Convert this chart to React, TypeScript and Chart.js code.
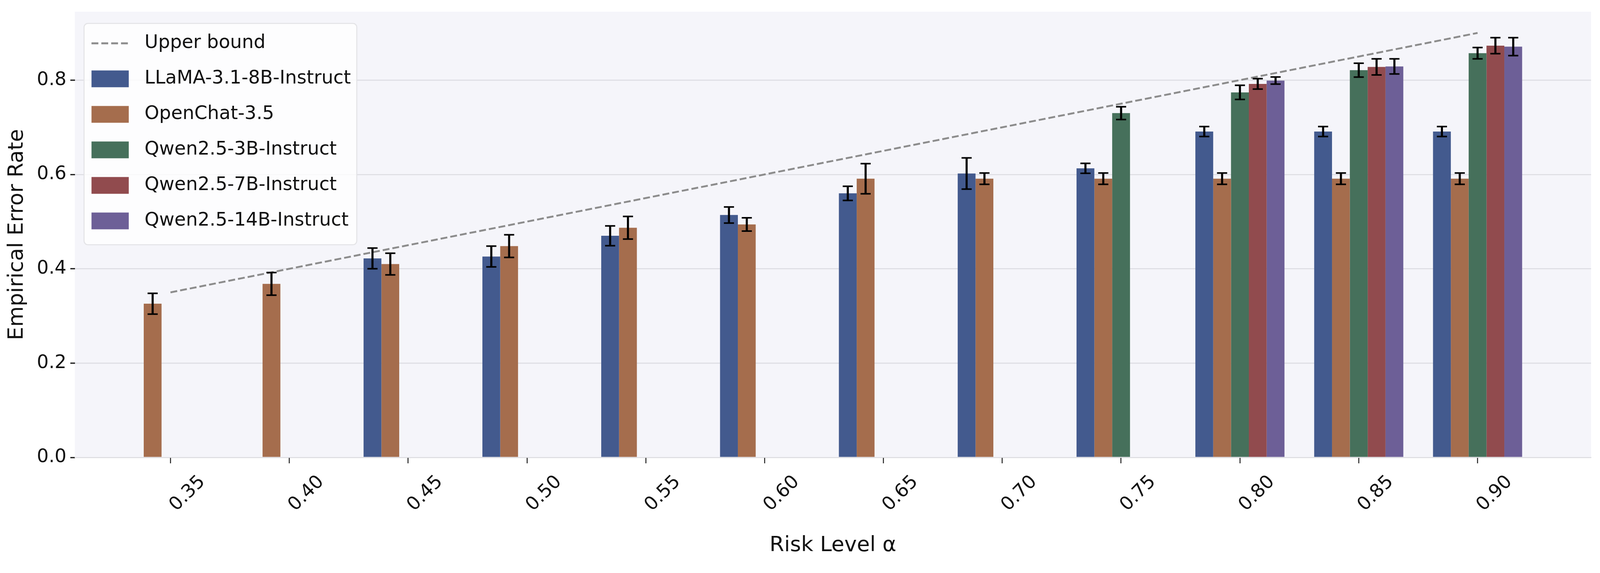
import React, { useEffect, useRef, useState } from 'react';
import { Chart, registerables } from 'chart.js';

Chart.register(...registerables);

// ---------------- data ----------------
const riskLevels = ['0.35', '0.40', '0.45', '0.50', '0.55', '0.60', '0.65', '0.70', '0.75', '0.80', '0.85', '0.90'];
const upperBound = [0.35, 0.40, 0.45, 0.50, 0.55, 0.60, 0.65, 0.70, 0.75, 0.80, 0.85, 0.90];

const llama = [null, null, 0.422, 0.426, 0.470, 0.514, 0.560, 0.602, 0.613, 0.691, 0.691, 0.691];
const llamaErr = [null, null, 0.022, 0.022, 0.021, 0.017, 0.015, 0.033, 0.0105, 0.0105, 0.0105, 0.0105];

const openchat = [0.326, 0.368, 0.410, 0.448, 0.487, 0.494, 0.591, 0.591, 0.591, 0.591, 0.591, 0.591];
const openchatErr = [0.022, 0.024, 0.023, 0.024, 0.024, 0.014, 0.032, 0.012, 0.012, 0.012, 0.012, 0.012];

const qwen3b = [null, null, null, null, null, null, null, null, 0.730, 0.774, 0.821, 0.857];
const qwen3bErr = [null, null, null, null, null, null, null, null, 0.0135, 0.015, 0.0147, 0.012];

const qwen7b = [null, null, null, null, null, null, null, null, null, 0.792, 0.828, 0.873];
const qwen7bErr = [null, null, null, null, null, null, null, null, null, 0.011, 0.017, 0.017];

const qwen14b = [null, null, null, null, null, null, null, null, null, 0.799, 0.829, 0.871];
const qwen14bErr = [null, null, null, null, null, null, null, null, null, 0.0075, 0.016, 0.019];

const yTicks = [0.0, 0.2, 0.4, 0.6, 0.8];
const yMax = 0.945;
const xMin = -0.805;
const xMax = 11.955;

const seriesLabels = [
  'LLaMA-3.1-8B-Instruct',
  'OpenChat-3.5',
  'Qwen2.5-3B-Instruct',
  'Qwen2.5-7B-Instruct',
  'Qwen2.5-14B-Instruct',
];
const seriesValues = [llama, openchat, qwen3b, qwen7b, qwen14b];
const seriesErrors = [llamaErr, openchatErr, qwen3bErr, qwen7bErr, qwen14bErr];
const seriesColors = ['#435a8e', '#a56d4d', '#46705b', '#914b4e', '#6d5f97'];

// ---------------- style (reference-pixel units, scaled at runtime) ----------------
const REF_W = 5368;
const REF_H = 1468;
const FONT = 'DejaVu Sans';
const TICK_SIZE = 62.5;
const TITLE_SIZE = 70.8;
const TEXT = '#111111';

const toPoints = (vals: (number | null)[]) => vals.map((v, i) => ({ x: i, y: v }));

export default function App() {
  const canvasRef = useRef<HTMLCanvasElement | null>(null);
  const [size] = useState(() => {
    const w = typeof window !== 'undefined' ? window.innerWidth : REF_W;
    const h = typeof window !== 'undefined' ? window.innerHeight : REF_H;
    return { w, h, sx: w / REF_W, sy: h / REF_H };
  });

  useEffect(() => {
    document.body.style.margin = '0';
    document.body.style.overflow = 'hidden';
    const canvas = canvasRef.current;
    if (!canvas) return;
    const { sx, sy } = size;
    const X = (v: number) => v * sx;
    const Y = (v: number) => v * sy;
    const F = (v: number) => v * sx;
    const tickFont = F(TICK_SIZE);
    const titleFont = F(TITLE_SIZE);

    const plotBgPlugin = {
      id: 'plotBg',
      beforeDraw(chart: any) {
        const { ctx, chartArea } = chart;
        ctx.save();
        ctx.fillStyle = '#ffffff';
        ctx.fillRect(0, 0, chart.width, chart.height);
        ctx.fillStyle = '#f5f5fa';
        ctx.fillRect(chartArea.left, chartArea.top, chartArea.right - chartArea.left, chartArea.bottom - chartArea.top);
        ctx.restore();
      },
    };

    const errorBarPlugin = {
      id: 'errorBars',
      afterDatasetsDraw(chart: any) {
        const { ctx } = chart;
        const yScale = chart.scales.y;
        chart.data.datasets.forEach((ds: any, di: number) => {
          if (!ds.errors) return;
          const meta = chart.getDatasetMeta(di);
          meta.data.forEach((el: any, i: number) => {
            const v = ds.data[i].y;
            const e = ds.errors[i];
            if (v == null || e == null) return;
            const x = el.x;
            const yTop = yScale.getPixelForValue(v + e);
            const yBot = yScale.getPixelForValue(v - e);
            ctx.save();
            ctx.strokeStyle = '#000000';
            ctx.lineCap = 'butt';
            ctx.lineWidth = X(7);
            ctx.beginPath();
            ctx.moveTo(x, yTop);
            ctx.lineTo(x, yBot);
            ctx.stroke();
            ctx.lineWidth = Y(4);
            ctx.beginPath();
            ctx.moveTo(x - X(17), yTop);
            ctx.lineTo(x + X(17), yTop);
            ctx.moveTo(x - X(17), yBot);
            ctx.lineTo(x + X(17), yBot);
            ctx.stroke();
            ctx.restore();
          });
        });
      },
    };

    const legendPlugin = {
      id: 'boxLegend',
      afterDraw(chart: any) {
        const { ctx, chartArea } = chart;
        const x0 = chartArea.left + X(31);
        const y0 = chartArea.top + Y(30);
        const w = X(915);
        const h = Y(567);
        ctx.save();
        ctx.beginPath();
        (ctx as any).roundRect(x0, y0, w, h, X(13));
        ctx.fillStyle = 'rgba(255,255,255,0.8)';
        ctx.fill();
        ctx.lineWidth = X(3.3);
        ctx.strokeStyle = '#e3e3e6';
        ctx.stroke();
        const rowStart = y0 + Y(51);
        const rowGap = Y(91);
        const hx = x0 + X(25);
        const hw = X(125);
        const tx = x0 + X(203);
        chart.data.datasets.forEach((ds: any, i: number) => {
          const cy = rowStart + i * rowGap;
          if (ds.type === 'line') {
            ctx.save();
            ctx.strokeStyle = ds.borderColor;
            ctx.lineWidth = ds.borderWidth;
            ctx.setLineDash(ds.borderDash);
            ctx.beginPath();
            ctx.moveTo(hx, cy);
            ctx.lineTo(hx + hw, cy);
            ctx.stroke();
            ctx.restore();
          } else {
            ctx.fillStyle = ds.backgroundColor;
            ctx.fillRect(hx, cy - Y(21.5), hw, Y(43));
          }
          ctx.fillStyle = TEXT;
          ctx.font = `${tickFont}px "${FONT}"`;
          ctx.textAlign = 'left';
          ctx.textBaseline = 'middle';
          ctx.fillText(ds.label, tx, cy);
        });
        ctx.restore();
      },
    };

    const datasets: any[] = [
      {
        type: 'line',
        label: 'Upper bound',
        data: toPoints(upperBound),
        borderColor: '#8c8c8c',
        borderWidth: X(6.25),
        borderDash: [X(23), X(10)],
        pointRadius: 0,
        fill: false,
        tension: 0,
        order: 0,
      },
      ...seriesLabels.map((label, k) => ({
        type: 'bar',
        label,
        data: toPoints(seriesValues[k]),
        errors: seriesErrors[k],
        backgroundColor: seriesColors[k],
        borderWidth: 0,
        categoryPercentage: 0.75,
        barPercentage: 1.0,
        order: 1,
      })),
    ];

    const chart = new Chart(canvas, {
      type: 'bar',
      data: { datasets },
      options: {
        animation: false,
        responsive: false,
        layout: { padding: { left: 0, top: Y(30), right: X(30), bottom: 0 } },
        plugins: {
          legend: { display: false },
          tooltip: { enabled: false },
        },
        scales: {
          x: {
            type: 'linear',
            offset: false,
            min: xMin,
            max: xMax,
            afterBuildTicks: (axis: any) => {
              axis.ticks = riskLevels.map((_, i) => ({ value: i }));
            },
            afterFit: (scale: any) => {
              scale.height = Y(296);
              scale.paddingLeft = 0;
              scale.paddingRight = 0;
            },
            ticks: {
              autoSkip: false,
              minRotation: 45,
              maxRotation: 45,
              padding: Y(20),
              labelOffset: 1.708 * tickFont,
              color: TEXT,
              font: { family: FONT, size: tickFont },
              callback: (value: any) => riskLevels[Math.round(value)],
            },
            grid: {
              display: true,
              offset: false,
              drawOnChartArea: false,
              drawTicks: true,
              tickLength: Y(15),
              tickWidth: X(3.3),
              tickColor: '#222222',
              color: '#222222',
            },
            border: { display: true, color: '#dcdce0', width: Y(2) },
            title: {
              display: true,
              text: 'Risk Level α',
              color: TEXT,
              font: { family: FONT, size: titleFont },
              padding: { top: 0, bottom: Y(70) - 0.6 * titleFont },
            },
          },
          y: {
            type: 'linear',
            min: 0,
            max: yMax,
            z: 1,
            afterBuildTicks: (axis: any) => {
              axis.ticks = yTicks.map((v) => ({ value: v }));
            },
            afterFit: (scale: any) => {
              scale.width = X(251);
              scale.paddingTop = 0;
              scale.paddingBottom = 0;
            },
            ticks: {
              autoSkip: false,
              padding: X(13),
              color: TEXT,
              font: { family: FONT, size: tickFont },
              callback: (value: any) => Number(value).toFixed(1),
            },
            grid: {
              display: true,
              drawOnChartArea: true,
              drawTicks: true,
              tickLength: X(15),
              tickWidth: Y(3.3),
              tickColor: '#222222',
              color: 'rgba(140,140,150,0.22)',
              lineWidth: Y(2.8),
            },
            border: { display: false },
            title: {
              display: true,
              text: 'Empirical Error Rate',
              color: TEXT,
              font: { family: FONT, size: titleFont },
              padding: { top: X(57) - 0.6 * titleFont, bottom: 0 },
            },
          },
        },
      } as any,
      plugins: [plotBgPlugin, errorBarPlugin, legendPlugin],
    });

    return () => {
      chart.destroy();
    };
  }, [size]);

  return (
    <div style={{ width: `${size.w}px`, height: `${size.h}px` }}>
      <canvas
        ref={canvasRef}
        style={{ display: 'block', width: `${size.w}px`, height: `${size.h}px` }}
        width={size.w}
        height={size.h}
      />
    </div>
  );
}
